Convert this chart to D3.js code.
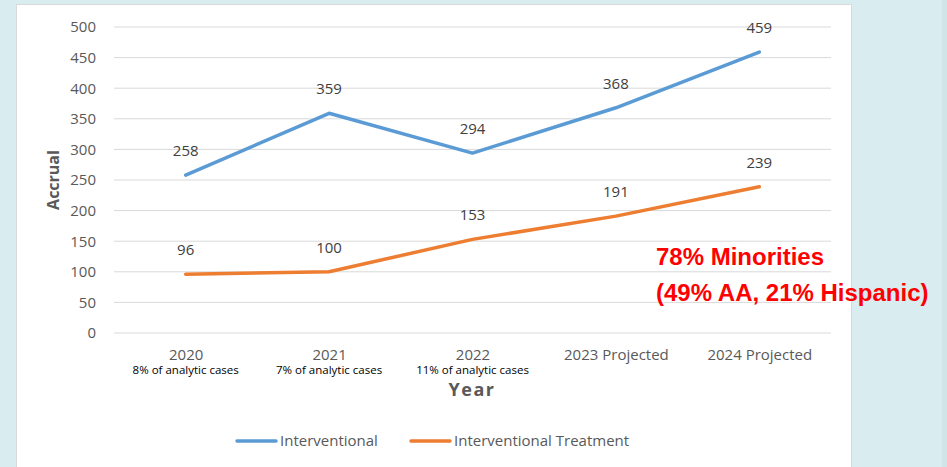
<!DOCTYPE html>
<html>
<head>
<meta charset="utf-8">
<script src="https://cdn.jsdelivr.net/npm/d3@7"></script>
<style>
  body { margin: 0; background: #d9ecef; }
  svg { display: block; font-family: "Open Sans", sans-serif; }
</style>
</head>
<body>
<svg id="chart"></svg>
<script>
const years = ["2020", "2021", "2022", "2023 Projected", "2024 Projected"]
const subLabels = ["8% of analytic cases", "7% of analytic cases", "11% of analytic cases", "", ""]
const interventional = [258, 359, 294, 368, 459]
const treatment = [96, 100, 153, 191, 239]
const yTicks = [0, 50, 100, 150, 200, 250, 300, 350, 400, 450, 500]
const seriesNames = ["Interventional", "Interventional Treatment"]
const colors = ["#5b9bd5", "#ed7d31"]

const w = 947
const h = 467

const svg = d3.select("#chart")
    .attr("width", w)
    .attr("height", h)

// background and white panel
svg.append("rect").attr("width", w).attr("height", h).attr("fill", "#d9ecef")
svg.append("rect").attr("x", 942).attr("width", 5).attr("height", h).attr("fill", "#cfe5e8")
svg.append("rect")
    .attr("x", 16.5).attr("y", 4.5)
    .attr("width", 835).attr("height", h)
    .attr("fill", "#fff")
    .attr("stroke", "#d9d9d9")

const xScale = d3.scalePoint()
    .domain(years)
    .range([114, 831])
    .padding(0.5)

const yScale = d3.scaleLinear()
    .domain([0, 500])
    .range([333, 27])

// gridlines
svg.append("g")
    .selectAll("line")
    .data(yTicks)
    .enter()
    .append("line")
    .attr("x1", 114)
    .attr("x2", 831)
    .attr("y1", d => yScale(d))
    .attr("y2", d => yScale(d))
    .attr("stroke", "#d9d9d9")
    .attr("stroke-width", 1)

// y axis
const axisLeft = d3.axisLeft(yScale)
    .tickValues(yTicks)
    .tickSize(0)
    .tickPadding(18)

svg.append("g")
    .attr("transform", "translate(114, 0)")
    .call(axisLeft)
    .call(g => g.select(".domain").remove())
    .call(g => g.selectAll("text")
        .attr("fill", "#595959")
        .attr("font-size", 15)
        .attr("font-family", "Open Sans"))

// x axis
const axisBottom = d3.axisBottom(xScale)
    .tickSize(0)
    .tickPadding(16)

svg.append("g")
    .attr("transform", "translate(0, 333)")
    .call(axisBottom)
    .call(g => g.select(".domain").remove())
    .call(g => g.selectAll("text")
        .attr("fill", "#595959")
        .attr("font-size", 15)
        .attr("font-family", "Open Sans"))

// sub labels under years
svg.append("g")
    .selectAll("text")
    .data(years)
    .enter()
    .append("text")
    .attr("x", d => xScale(d))
    .attr("y", 374)
    .attr("text-anchor", "middle")
    .attr("font-size", 11.5)
    .attr("fill", "#000")
    .text((d, i) => subLabels[i])

// axis titles
svg.append("text")
    .attr("x", 472)
    .attr("y", 396)
    .attr("text-anchor", "middle")
    .attr("font-size", 18)
    .attr("font-weight", "bold")
    .attr("letter-spacing", 1.5)
    .attr("fill", "#595959")
    .text("Year")

svg.append("text")
    .attr("transform", "translate(59, 180) rotate(-90)")
    .attr("text-anchor", "middle")
    .attr("font-size", 16)
    .attr("font-weight", "bold")
    .attr("fill", "#595959")
    .text("Accrual")

// lines
const line = d3.line()
    .x((d, i) => xScale(years[i]))
    .y(d => yScale(d))

const allSeries = [interventional, treatment]

allSeries.forEach((s, k) => {
    svg.append("path")
        .datum(s)
        .attr("d", line)
        .attr("fill", "none")
        .attr("stroke", colors[k])
        .attr("stroke-width", 3.5)
        .attr("stroke-linecap", "round")
        .attr("stroke-linejoin", "round")

    svg.append("g")
        .selectAll("text")
        .data(s)
        .enter()
        .append("text")
        .attr("x", (d, i) => xScale(years[i]))
        .attr("y", d => yScale(d) - 19)
        .attr("text-anchor", "middle")
        .attr("font-size", 15)
        .attr("fill", "#404040")
        .text(d => d)
})

// legend
const legend = svg.append("g")
    .attr("transform", "translate(237, 441)")

const legendX = [0, 174]
seriesNames.forEach((name, k) => {
    legend.append("line")
        .attr("x1", legendX[k])
        .attr("x2", legendX[k] + 39)
        .attr("stroke", colors[k])
        .attr("stroke-width", 3.5)
        .attr("stroke-linecap", "round")

    legend.append("text")
        .attr("x", legendX[k] + 43)
        .attr("y", 5)
        .attr("font-size", 15)
        .attr("fill", "#595959")
        .text(name)
})

// annotation
const note = svg.append("text")
    .attr("font-family", "Liberation Sans, Arial, sans-serif")
    .attr("font-weight", "bold")
    .attr("font-size", 24)
    .attr("fill", "#ff0000")

note.append("tspan").attr("x", 656).attr("y", 265).text("78% Minorities")
note.append("tspan").attr("x", 656).attr("y", 301).text("(49% AA, 21% Hispanic)")
</script>
</body>
</html>
